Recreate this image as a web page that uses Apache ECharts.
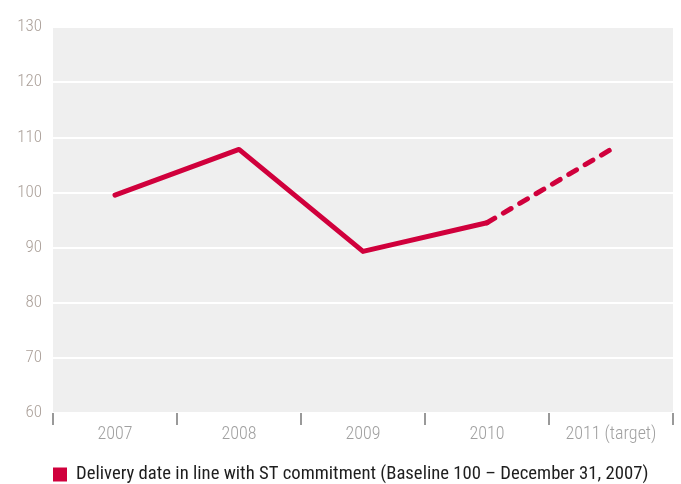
<!DOCTYPE html>
<html><head><meta charset="utf-8">
<script src="https://cdn.jsdelivr.net/npm/echarts@6/dist/echarts.min.js"></script>
<style>html,body{margin:0;padding:0;background:#fff}#c{width:681px;height:484px}</style>
</head><body><div id="c"></div>
<script>
const categories = ['2007','2008','2009','2010','2011 (target)'];
const actualValues = [99.5, 107.8, 89.3, 94.5, null];
const targetValues = [null, null, null, 94.5, 107.8];
const yTicks = [60, 70, 80, 90, 100, 110, 120, 130];
const seriesName = 'Delivery date in line with ST commitment (Baseline 100 \u2013 December 31, 2007)';

const FONT = '"Roboto Condensed", "DejaVu Sans Condensed", "Liberation Sans Narrow", "Liberation Sans", sans-serif';
const RED = '#d0003c';
const chart = echarts.init(document.getElementById('c'), null, {renderer:'canvas'});
chart.setOption({
  animation: false,
  grid: {left: 53, right: 8, top: 27, bottom: 71, show: true, backgroundColor: '#efefef', borderWidth: 0},
  legend: {
    data: [seriesName], left: 53, top: 465, padding: 0, icon: 'rect', itemWidth: 14, itemHeight: 14, itemGap: 8,
    textStyle: {fontFamily: FONT, fontSize: 18.7, color: '#1e1e1e', padding: [0, 0, 0, 4]}
  },
  xAxis: {
    type: 'category', data: categories, boundaryGap: true,
    axisLine: {show: false},
    axisTick: {show: true, interval: 0, length: 12, lineStyle: {color: '#999', width: 2}},
    axisLabel: {interval: 0, fontFamily: FONT, fontWeight: 300, fontSize: 18, color: '#a0a0a0', margin: 12},
    splitLine: {show: false}
  },
  yAxis: {
    type: 'value', min: yTicks[0], max: yTicks[yTicks.length-1], interval: 10,
    axisLine: {show: false}, axisTick: {show: false},
    axisLabel: {fontFamily: FONT, fontWeight: 300, fontSize: 17, color: '#aa9f98', margin: 11},
    splitLine: {show: true, lineStyle: {color: '#ffffff', width: 2}}
  },
  series: [
    {name: seriesName, type: 'line', data: actualValues, showSymbol: false, symbol: 'none',
     lineStyle: {color: RED, width: 5, cap: 'round', join: 'round'}, itemStyle: {color: RED}},
    {name: 'target', type: 'line', data: targetValues, showSymbol: false, symbol: 'none',
     lineStyle: {color: RED, width: 5, type: [9, 10], cap: 'round'}, itemStyle: {color: RED}}
  ]
});
</script></body></html>
